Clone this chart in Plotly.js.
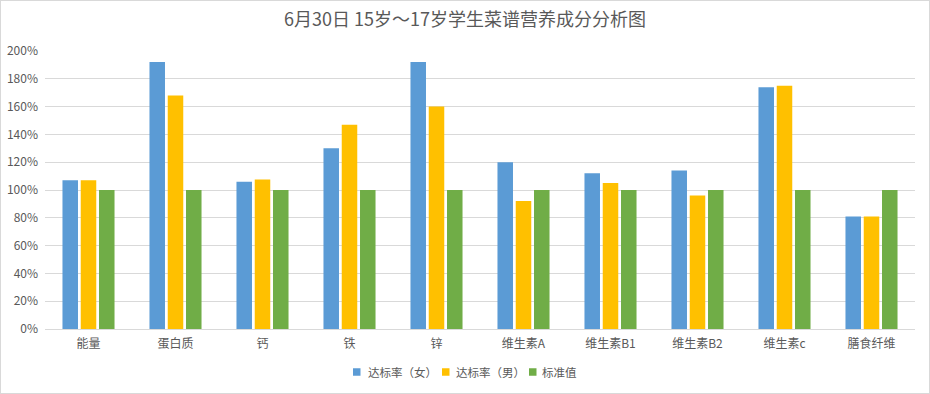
<!DOCTYPE html>
<html>
<head>
<meta charset="utf-8">
<script src="https://cdn.plot.ly/plotly-3.0.1.min.js"></script>
<style>
  html, body { margin: 0; padding: 0; background: #fff; }
  #wrap { position: relative; width: 930px; height: 394px; }
  #chart { width: 930px; height: 394px; }
  #frame { position: absolute; left: 0; top: 0; width: 928px; height: 392px; border: 1px solid #d9d9d9; pointer-events: none; }
</style>
</head>
<body>
<div id="wrap"><div id="chart"></div><div id="frame"></div></div>
<script>
const categories = ["能量", "蛋白质", "钙", "铁", "锌", "维生素A", "维生素B1", "维生素B2", "维生素c", "膳食纤维"];
const seriesNames = ["达标率（女）", "达标率（男）", "标准值"];
const femaleRate = [107, 192, 106, 130, 192, 120, 112, 114, 174, 81];
const maleRate   = [107, 168, 107.5, 147, 160, 92, 105, 96, 175, 81];
const standard   = [100, 100, 100, 100, 100, 100, 100, 100, 100, 100];
const yTicks = [0, 20, 40, 60, 80, 100, 120, 140, 160, 180, 200];
const colors = ["#5B9BD5", "#FFC000", "#70AD47"];

const font = "'Noto Sans CJK SC', 'Noto Sans', sans-serif";
const seriesValues = [femaleRate, maleRate, standard];
const traces = seriesValues.map((vals, i) => ({
  type: "bar",
  name: seriesNames[i],
  x: categories,
  y: vals,
  marker: { color: colors[i] },
  hoverinfo: "x+y+name",
  showlegend: false
}));

// plot area geometry (pixels) used to place a compact legend
const M = { l: 45, r: 15, t: 51, b: 65 };
const W = 930, H = 394;
const pw = W - M.l - M.r, ph = H - M.t - M.b;
const px = p => (p - M.l) / pw;
const py = p => (H - M.b - p) / ph;

const legendSquareLeft = [353, 442, 529];
const legendTextLeft = [366, 454, 540];
const legendCenterY = 372;
const sq = 7.5;

const shapes = seriesNames.map((n, i) => ({
  type: "rect", xref: "paper", yref: "paper",
  x0: px(legendSquareLeft[i]), x1: px(legendSquareLeft[i] + sq),
  y0: py(legendCenterY + sq / 2), y1: py(legendCenterY - sq / 2),
  fillcolor: colors[i], line: { width: 0 }
}));
const annotations = seriesNames.map((n, i) => ({
  text: n, xref: "paper", yref: "paper",
  x: px(legendTextLeft[i]), y: py(legendCenterY),
  xanchor: "left", yanchor: "middle", showarrow: false,
  font: { family: font, size: 11.5, color: "#595959" }
}));

const layout = {
  width: W, height: H,
  margin: M,
  paper_bgcolor: "#ffffff",
  plot_bgcolor: "#ffffff",
  font: { family: font, size: 12, color: "#595959" },
  title: {
    text: "6月30日 15岁～17岁学生菜谱营养成分分析图",
    font: { family: font, size: 18, color: "#595959" },
    x: 0.5, xanchor: "center",
    yref: "container", y: 0.95, yanchor: "middle"
  },
  barmode: "group",
  bargap: 0.37,
  bargroupgap: 0.15,
  xaxis: {
    type: "category",
    showgrid: false,
    showline: true, linecolor: "#d9d9d9", linewidth: 1,
    ticks: "", ticklabelstandoff: 4,
    tickfont: { family: font, size: 12, color: "#595959" }
  },
  yaxis: {
    range: [0, 200],
    tickvals: yTicks,
    ticktext: yTicks.map(v => v + "%"),
    showgrid: true, gridcolor: "#d9d9d9", gridwidth: 1,
    zeroline: false, showline: false,
    ticks: "", ticklabelstandoff: 6,
    tickfont: { family: font, size: 12, color: "#595959" }
  },
  showlegend: false,
  shapes: shapes,
  annotations: annotations
};

Plotly.newPlot("chart", traces, layout, { displayModeBar: false });
</script>
</body>
</html>
